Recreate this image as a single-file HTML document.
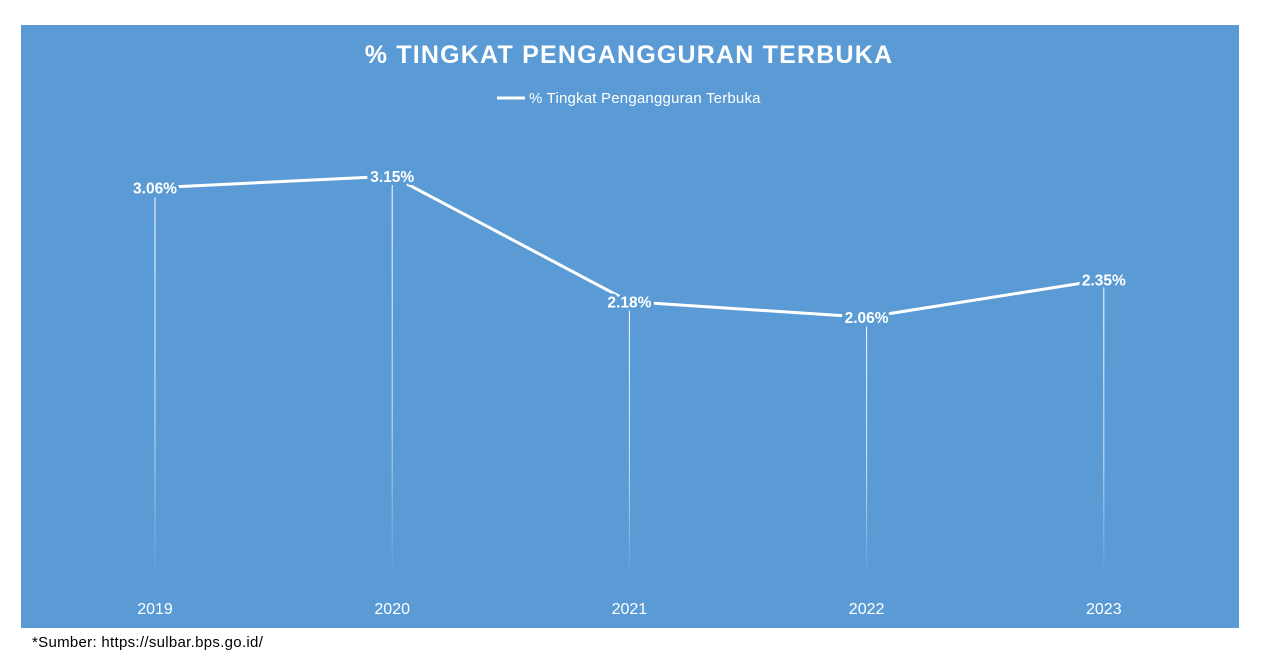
<!DOCTYPE html>
<html><head><meta charset="utf-8"><style>
body{margin:0;background:#fff;width:1269px;height:664px;overflow:hidden;font-family:"Liberation Sans",Calibri,sans-serif}
</style></head><body>
<svg width="1269" height="664" style="position:absolute;left:0;top:0">
<defs><linearGradient id="fade" x1="0" y1="0" x2="0" y2="1"><stop offset="0" stop-color="#fff" stop-opacity="1"/><stop offset="0.6" stop-color="#fff" stop-opacity="0.7"/><stop offset="1" stop-color="#fff" stop-opacity="0"/></linearGradient></defs>
<rect x="21" y="25" width="1218" height="603" fill="#5b9bd5"/>
<text x="629" y="63" text-anchor="middle" fill="#fff" font-size="25" font-weight="bold" letter-spacing="1.2">% TINGKAT PENGANGGURAN TERBUKA</text>
<g><line x1="497" y1="98" x2="525" y2="98" stroke="#fff" stroke-width="3"/><text x="529" y="103" fill="#fff" font-size="15" letter-spacing="0.2">% Tingkat Pengangguran Terbuka</text></g>
<g id="drops"></g><g id="line"></g><g id="labels"></g>
<text x="32" y="647" font-size="15" fill="#000" letter-spacing="0.3">*Sumber: https://sulbar.bps.go.id/</text>
</svg>
<script>
const categories=["2019","2020","2021","2022","2023"];
const values=[3.06,3.15,2.18,2.06,2.35];
const valueLabels=["3.06%","3.15%","2.18%","2.06%","2.35%"];
const ns="http://www.w3.org/2000/svg";
const x=i=>155+i*237.2;
const y=v=>584-v*129.5;
function mk(t,a,p){const e=document.createElementNS(ns,t);for(const k in a)e.setAttribute(k,a[k]);p.appendChild(e);return e;}
const drops=document.getElementById('drops'),lg=document.getElementById('line'),lb=document.getElementById('labels');
let pts=[];
values.forEach((v,i)=>{
 const d=mk('rect',{x:x(i)-0.5,y:y(v),width:1,height:578-y(v),fill:'url(#fade)'},drops);
 
 
 pts.push(x(i)+','+y(v));
 const t=mk('text',{x:x(i),y:y(v)+6,'text-anchor':'middle',fill:'#fff','font-size':'15.5','font-weight':'bold',stroke:'#5b9bd5','stroke-width':'6','paint-order':'stroke'},lb);
 t.textContent=valueLabels[i];
 
 
 const c=mk('text',{x:x(i),y:614,'text-anchor':'middle',fill:'#fff','font-size':'16'},lb);
 c.textContent=categories[i];
 
 
});
const pl=mk('polyline',{points:pts.join(' '),fill:'none',stroke:'#fff','stroke-width':'3','stroke-linejoin':'round'},lg);


</script>
</body></html>
